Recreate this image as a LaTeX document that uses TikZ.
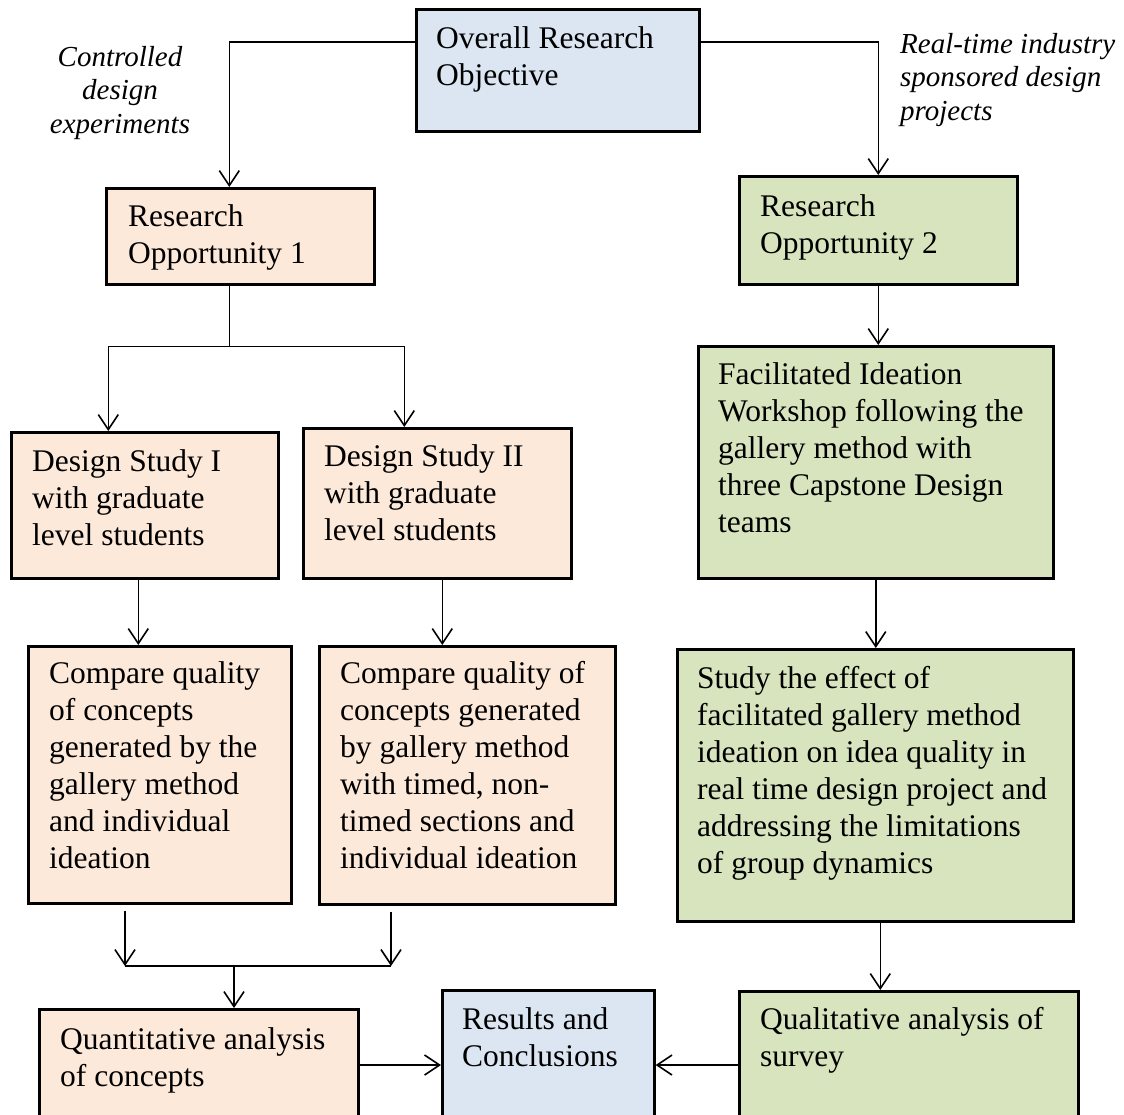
\documentclass[tikz,border=0pt]{standalone}
\usepackage{fontspec}
\setmainfont{Liberation Serif}
\usetikzlibrary{arrows.meta,calc}

\definecolor{objblue}{HTML}{DCE6F2}
\definecolor{peach}{HTML}{FDE9D9}
\definecolor{sage}{HTML}{D7E4BD}

\tikzset{
  box/.style={draw=black, line width=2.6pt, inner sep=0pt, anchor=north west},
  bluebox/.style={box, fill=objblue},
  peachbox/.style={box, fill=peach},
  greenbox/.style={box, fill=sage},
  txt/.style={anchor=north west, inner sep=0pt, align=left,
    font=\fontsize{31.5}{37}\selectfont},
  note/.style={inner sep=0pt, font=\fontsize{29}{33.5}\selectfont\itshape},
  ln/.style={draw=black, line width=1.6pt},
  arr/.style={ln, -{Straight Barb[length=15pt,width=20pt,line width=1.6pt]}},
}

\begin{document}
\begin{tikzpicture}[x=1pt, y=-1pt]
\useasboundingbox (0,0) rectangle (1124,1114);
\clip (0,0) rectangle (1124,1114);
\fill[white] (0,0) rectangle (1124,1114);

% boxes
\node[bluebox,  minimum width=283pt, minimum height=122pt] (ov)   at (415,8)    {};
\node[peachbox, minimum width=268pt, minimum height=96pt]  (ro1)  at (105,187)  {};
\node[greenbox, minimum width=278pt, minimum height=108pt] (ro2)  at (738,175)  {};
\node[peachbox, minimum width=267pt, minimum height=146pt] (ds1)  at (10,431)   {};
\node[peachbox, minimum width=268pt, minimum height=150pt] (ds2)  at (302,427)  {};
\node[greenbox, minimum width=355pt, minimum height=232pt] (fac)  at (697,345)  {};
\node[peachbox, minimum width=263pt, minimum height=257pt] (cmp1) at (27,645)   {};
\node[peachbox, minimum width=296pt, minimum height=258pt] (cmp2) at (318,645)  {};
\node[greenbox, minimum width=396pt, minimum height=272pt] (st)   at (676,648)  {};
\node[peachbox, minimum width=319pt, minimum height=140pt] (qn)   at (38,1008)  {};
\node[bluebox,  minimum width=212pt, minimum height=160pt] (rs)   at (441,989)  {};
\node[greenbox, minimum width=339pt, minimum height=160pt] (ql)   at (738,990)  {};

% box texts
\node[txt] (ov-t)   at (436,22)   {\strut Overall Research\\Objective};
\node[txt] (ro1-t)  at (128,200)  {\strut Research\\Opportunity 1};
\node[txt] (ro2-t)  at (760,190)  {\strut Research\\Opportunity 2};
\node[txt] (ds1-t)  at (32,445)   {\strut Design Study I\\with graduate\\level students};
\node[txt] (ds2-t)  at (324,440)  {\strut Design Study II\\with graduate\\level students};
\node[txt] (fac-t)  at (718,358)  {\strut Facilitated Ideation\\Workshop following the\\gallery method with\\three Capstone Design\\teams};
\node[txt] (cmp1-t) at (49,657)   {\strut Compare quality\\of concepts\\generated by the\\gallery method\\and individual\\ideation};
\node[txt] (cmp2-t) at (340,657)  {\strut Compare quality of\\concepts generated\\by gallery method\\with timed, non-\\timed sections and\\individual ideation};
\node[txt] (st-t)   at (697,662)  {\strut Study the effect of\\facilitated gallery method\\ideation on idea quality in\\real time design project and\\addressing the limitations\\of group dynamics};
\node[txt] (qn-t)   at (60,1023)  {\strut Quantitative analysis\\of concepts};
\node[txt] (rs-t)   at (462,1003) {\strut Results and\\Conclusions};
\node[txt] (ql-t)   at (760,1003) {\strut Qualitative analysis of\\survey};

% branch notes
\node[note, anchor=north, align=center] (n-ctrl) at (120,42.5) {\strut Controlled\\design\\experiments};
\node[note, anchor=north west, align=left] (n-real) at (900,29.5) {\strut Real-time industry\\sponsored design\\projects};

% connectors
\draw[arr] ([yshift=-34pt]ov.north west) -| ([xshift=-11pt]ro1.north);
\draw[arr] ([yshift=-34pt]ov.north east) -| (ro2.north);

\draw[ln] ([xshift=-11pt]ro1.south) -- ([xshift=-11pt,yshift=-61pt]ro1.south) coordinate (split);
\draw[arr] (split) -| ([xshift=-36.5pt]ds1.north);
\draw[arr] (split) -| ([xshift=-33pt]ds2.north);

\draw[arr] (ro2.south) -- (ro2.south |- fac.north);

\draw[arr] ([xshift=-6.5pt]ds1.south) -- ([xshift=-6.5pt]ds1.south |- cmp1.north);
\draw[arr] ([xshift=5pt]ds2.south) -- ([xshift=5pt]ds2.south |- cmp2.north);
\draw[arr] (fac.south) -- (fac.south |- st.north);

\coordinate (jl) at (125,966);
\coordinate (jr) at (391,966);
\coordinate (jm) at (234,966);
\draw[arr] ([yshift=-6pt]cmp1.south -| jl) -- (jl);
\draw[arr] ([yshift=-6pt]cmp2.south -| jr) -- (jr);
\draw[ln] (jl) -- (jr);
\draw[arr] (jm) -- (jm |- qn.north);

\draw[arr] ([xshift=5pt]st.south) -- ([xshift=5pt]st.south |- ql.north);

\draw[arr] ([yshift=-57pt]qn.north east) -- ([yshift=-57pt]qn.north east -| rs.west);
\draw[arr] ([yshift=-75pt]ql.north west) -- ([yshift=-75pt]ql.north west -| rs.east);
\end{tikzpicture}
\end{document}
